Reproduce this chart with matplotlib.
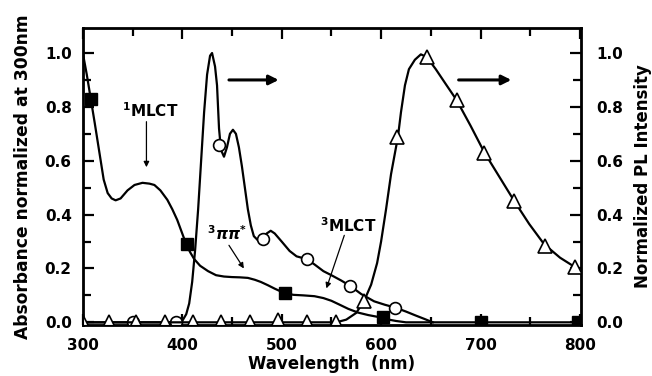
import matplotlib
matplotlib.use("Agg")
import matplotlib.pyplot as plt
from matplotlib.ticker import MultipleLocator

plt.rcParams['font.family'] = ['DejaVu Sans']
plt.rcParams['font.weight'] = 'bold'
plt.rcParams['mathtext.fontset'] = 'custom'
plt.rcParams['mathtext.rm'] = 'DejaVu Sans:bold'
plt.rcParams['mathtext.it'] = 'DejaVu Sans:bold:italic'
plt.rcParams['mathtext.bf'] = 'DejaVu Sans:bold'

# Absorbance (left axis)
abs_x = [300, 304, 308, 312, 315, 318, 321, 325, 329, 333, 338, 345, 352, 360, 367, 372,
         378, 385, 390, 395, 400, 404, 408, 412, 418, 426, 434, 442, 450, 458, 466, 473,
         479, 486, 493, 503, 512, 522, 533, 542, 550, 558, 567, 577, 587, 597, 605, 615,
         625, 800]
abs_y = [1.00, 0.92, 0.83, 0.74, 0.67, 0.60, 0.53, 0.48, 0.46, 0.453, 0.46, 0.49, 0.51,
         0.518, 0.515, 0.51, 0.49, 0.455, 0.42, 0.38, 0.33, 0.29, 0.26, 0.235, 0.21, 0.19,
         0.175, 0.17, 0.168, 0.167, 0.165, 0.158, 0.15, 0.138, 0.125, 0.108, 0.102, 0.10,
         0.097, 0.09, 0.08, 0.066, 0.05, 0.036, 0.027, 0.02, 0.012, 0.005, 0.0, 0.0]
abs_mx = [308, 405, 503, 602, 700, 798]
abs_my = [0.83, 0.29, 0.108, 0.02, 0.0, 0.0]

# PL 1 (circles, right axis)
pl1_x = [300, 350, 395, 400, 404, 407, 410, 413, 416, 419, 422, 425, 428, 430, 433, 435,
         437, 439, 442, 445, 448, 451, 454, 457, 460, 463, 466, 469, 472, 476, 480, 485,
         489, 493, 500, 508, 515, 525, 533, 542, 550, 560, 569, 580, 593, 604, 614, 625,
         635, 644, 652]
pl1_y = [0.0, 0.0, 0.0, 0.005, 0.03, 0.07, 0.15, 0.27, 0.42, 0.60, 0.78, 0.92, 0.99, 1.0,
         0.95, 0.88, 0.72, 0.64, 0.615, 0.65, 0.70, 0.715, 0.70, 0.65, 0.58, 0.50, 0.42,
         0.36, 0.32, 0.305, 0.31, 0.33, 0.34, 0.33, 0.30, 0.265, 0.245, 0.235, 0.215, 0.19,
         0.175, 0.155, 0.135, 0.105, 0.078, 0.065, 0.055, 0.04, 0.025, 0.012, 0.0]
pl1_mx = [350, 394, 437, 481, 525, 569, 614]
pl1_my = [0.0, 0.0, 0.66, 0.31, 0.235, 0.135, 0.055]

# PL 2 (triangles, right axis)
pl2_x = [300, 555, 565, 575, 583, 590, 596, 600, 605, 610, 614, 617, 620, 624, 628, 634,
         640, 646, 655, 665, 676, 690, 704, 719, 734, 749, 764, 780, 795, 800]
pl2_y = [0.0, 0.0, 0.01, 0.035, 0.08, 0.14, 0.22, 0.30, 0.42, 0.55, 0.63, 0.69, 0.78,
         0.88, 0.94, 0.975, 0.995, 0.985, 0.94, 0.885, 0.825, 0.73, 0.63, 0.54, 0.45,
         0.365, 0.29, 0.24, 0.205, 0.19]
pl2_mx = [300, 326, 354, 383, 411, 439, 468, 496, 525, 555, 583, 616, 646, 676, 704, 734,
          765, 795]
pl2_my = [0.0, 0.0, 0.0, 0.0, 0.0, 0.0, 0.0, 0.01, 0.0, 0.0, 0.08, 0.69, 0.985, 0.825,
          0.63, 0.45, 0.285, 0.205]

yticks = [0.0, 0.2, 0.4, 0.6, 0.8, 1.0]
xticks = [300, 400, 500, 600, 700, 800]

fig = plt.figure(figsize=(6.52, 3.76), dpi=100)
ax = fig.add_axes([0.127, 0.1356, 0.764, 0.790])
ax2 = ax.twinx()

lw = 1.6
ax.plot(abs_x, abs_y, color='k', lw=lw)
ax.plot(abs_mx, abs_my, ls='none', marker='s', ms=8.5, mfc='k', mec='k')
ax2.plot(pl1_x, pl1_y, color='k', lw=lw)
ax2.plot(pl1_mx, pl1_my, ls='none', marker='o', ms=8.5, mfc='white', mec='k', mew=1.2)
ax2.plot(pl2_x, pl2_y, color='k', lw=lw)
ax2.plot(pl2_mx, pl2_my, ls='none', marker='^', ms=9.5, mfc='white', mec='k', mew=1.2)

for a in (ax, ax2):
    a.set_xlim(300, 801)
    a.set_ylim(-0.01, 1.093)
    a.set_yticks(yticks)
    a.yaxis.set_minor_locator(MultipleLocator(0.1))
for s in ax.spines.values():
    s.set_linewidth(2.0)
ax.set_xticks(xticks)
ax.xaxis.set_minor_locator(MultipleLocator(50))
ax.tick_params(axis='both', which='both', direction='in', top=True, width=1.6)
ax.tick_params(axis='both', which='major', length=8)
ax.tick_params(axis='both', which='minor', length=6)
ax.tick_params(axis='y', which='major', pad=8, labelsize=11)
ax.tick_params(axis='x', which='major', pad=9, labelsize=11)
ax.tick_params(axis='y', which='both', right=False)
ax2.tick_params(axis='y', which='both', direction='in', width=1.6)
ax2.tick_params(axis='y', which='major', length=8, pad=11, labelsize=11)
ax2.tick_params(axis='y', which='minor', length=6)
ax.set_yticklabels([f"{v:.1f}" for v in yticks], fontweight='bold')
ax2.set_yticklabels([f"{v:.1f}" for v in yticks], fontweight='bold')
ax.set_xticklabels([str(v) for v in xticks], fontweight='bold')

ax.set_xlabel("Wavelength  (nm)", fontsize=12, fontweight='bold', labelpad=2)
ax.set_ylabel("Absorbance normalized at 300nm", fontsize=12.3, fontweight='bold', labelpad=9)
ax2.set_ylabel("Normalized PL Intensity", fontsize=12, fontweight='bold', labelpad=8)

# Annotations
thin = dict(arrowstyle='-|>', lw=0.9, color='k', mutation_scale=8, shrinkA=0, shrinkB=0)
thick = dict(arrowstyle='-|>', lw=2.2, color='k', mutation_scale=14, shrinkA=0, shrinkB=0)
ax.text(368, 0.785, r'$^{1}$MLCT', ha='center', va='center', fontsize=11, fontweight='bold')
ax.annotate('', xy=(364, 0.576), xytext=(364, 0.745), arrowprops=thin)
ax.text(445, 0.33, r'$^{3}\pi\pi^{*}$', ha='center', va='center', fontsize=11)
ax.annotate('', xy=(462, 0.20), xytext=(447, 0.286), arrowprops=thin)
ax.text(567, 0.36, r'$^{3}$MLCT', ha='center', va='center', fontsize=11, fontweight='bold')
ax.annotate('', xy=(545, 0.126), xytext=(563, 0.323), arrowprops=thin)
ax.annotate('', xy=(497, 0.90), xytext=(447, 0.90), arrowprops=thick)
ax.annotate('', xy=(731, 0.90), xytext=(678, 0.90), arrowprops=thick)

fig.savefig("out.png", dpi=100)
